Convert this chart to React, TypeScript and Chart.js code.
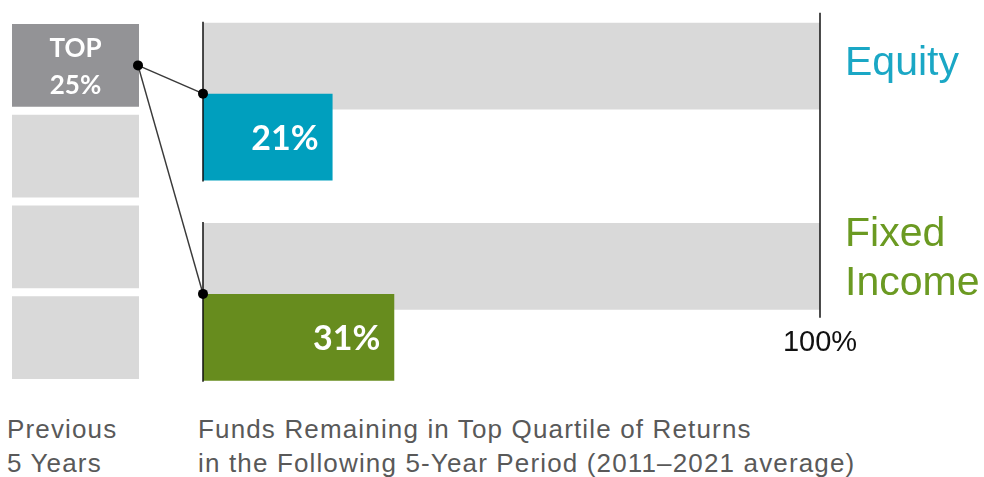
import React, { useEffect, useRef } from 'react';
import { Chart, registerables } from 'chart.js';

Chart.register(...registerables);

// ---- data ----
const categories = ['Equity', 'Fixed Income'];
const categoryLines = [['Equity'], ['Fixed', 'Income']];
const trackValues = [100, 100];
const remainingValues = [21, 31];
const valueLabels = ['21%', '31%'];
const scaleEndLabel = '100%';
const quartileCategories = ['Previous 5 Years'];
const quartileValues = [25, 25, 25, 25]; // bottom quartile → top quartile
const quartileLabels = [[], [], [], ['TOP', '25%']];
const footerLeft = ['Previous', '5 Years'];
const footerRight = [
  'Funds Remaining in Top Quartile of Returns',
  'in the Following 5-Year Period (2011\u20132021 average)',
];

// ---- styles ----
const barColors = ['#009fbe', '#678c1e'];
const categoryTextColors = ['#1aa7c5', '#6b9a22'];
const trackColor = '#d9d9d9';
const quartileColors = ['#d9d9d9', '#d9d9d9', '#d9d9d9', '#939396'];
const W = 984;
const H = 410;

export default function App() {
  const qRef = useRef<HTMLCanvasElement | null>(null);
  const mRef = useRef<HTMLCanvasElement | null>(null);

  useEffect(() => {
    const qLabelPlugin = {
      id: 'qlabels',
      afterDatasetsDraw(chart: any) {
        const ctx = chart.ctx;
        ctx.save();
        ctx.fillStyle = '#ffffff';
        ctx.font = 'bold 26px Lato, "Open Sans", sans-serif';
        ctx.textAlign = 'center';
        ctx.textBaseline = 'middle';
        quartileLabels.forEach((lines, i) => {
          const el: any = chart.getDatasetMeta(i).data[0];
          if (!el || !lines.length) return;
          const cy = (el.y + el.base) / 2 + 1.5;
          lines.forEach((t, k) => {
            ctx.fillText(t, el.x, cy + (k - (lines.length - 1) / 2) * 37);
          });
        });
        ctx.restore();
      },
    };

    const qChart = new Chart(qRef.current as HTMLCanvasElement, {
      type: 'bar',
      data: {
        labels: quartileCategories,
        datasets: quartileValues.map((v, i) => ({
          data: [v],
          backgroundColor: quartileColors[i],
          borderColor: '#ffffff',
          borderWidth: { top: 4, bottom: 4, left: 0, right: 0 },
          borderSkipped: false,
          barPercentage: 1,
          categoryPercentage: 1,
          inflateAmount: 0,
        })),
      },
      options: {
        responsive: false,
        animation: false,
        devicePixelRatio: 1,
        layout: { padding: { left: 12, right: W - 139, top: 20, bottom: H - 383 } },
        scales: {
          x: { display: false, stacked: true },
          y: { display: false, stacked: true, min: 0, max: 100 },
        },
        plugins: { legend: { display: false }, tooltip: { enabled: false } },
      },
      plugins: [qLabelPlugin],
    } as any);

    const mainPlugin = {
      id: 'mainDecor',
      beforeDatasetDraw(chart: any, args: any) {
        if (args.index === 1) return false;
        return true;
      },
      afterDatasetsDraw(chart: any) {
        const ctx = chart.ctx;
        const xs = chart.scales.x;
        const track: any[] = chart.getDatasetMeta(0).data;
        const barsMeta = chart.getDatasetMeta(1);
        barsMeta.controller.draw();
        const bars: any[] = barsMeta.data;
        const x0 = xs.getPixelForValue(0);
        const x100 = xs.getPixelForValue(100);

        ctx.save();
        // axis lines
        ctx.strokeStyle = '#111111';
        ctx.lineWidth = 1.5;
        track.forEach((t, i) => {
          const b = bars[i];
          ctx.beginPath();
          ctx.moveTo(x0, t.y - t.height / 2 - 1);
          ctx.lineTo(x0, b.y + b.height / 2 + 1);
          ctx.stroke();
        });
        const first = track[0];
        const last = track[track.length - 1];
        ctx.beginPath();
        ctx.moveTo(x100, first.y - first.height / 2 - 10);
        ctx.lineTo(x100, last.y + last.height / 2 + 8);
        ctx.stroke();

        // value labels
        ctx.fillStyle = '#ffffff';
        ctx.font = 'bold 34px Lato, "Open Sans", sans-serif';
        ctx.textAlign = 'right';
        ctx.textBaseline = 'middle';
        bars.forEach((b, i) => {
          ctx.fillText(valueLabels[i], b.x - 14, b.y + 1.5);
        });

        // category labels
        ctx.font = '41px "Liberation Sans", Arial, sans-serif';
        ctx.textAlign = 'left';
        ctx.textBaseline = 'alphabetic';
        track.forEach((t, i) => {
          const lines = categoryLines[i];
          ctx.fillStyle = categoryTextColors[i];
          lines.forEach((ln, k) => {
            const by = t.y + 9 - (lines.length - 1) * 29 + k * 49;
            ctx.fillText(ln, x100 + 25, by);
          });
        });

        // 100% label
        ctx.fillStyle = '#111111';
        ctx.font = '29px "Liberation Sans", Arial, sans-serif';
        ctx.textAlign = 'center';
        ctx.fillText(scaleEndLabel, x100, last.y + last.height / 2 + 41);

        // connectors
        const qMeta = qChart.getDatasetMeta(quartileValues.length - 1);
        const q: any = qMeta.data[0];
        if (q) {
          const qx = q.x + q.width / 2 - 1;
          const qy = (q.y + q.base) / 2;
          ctx.strokeStyle = '#3a3a3a';
          ctx.lineWidth = 1.5;
          bars.forEach((b) => {
            ctx.beginPath();
            ctx.moveTo(qx, qy);
            ctx.lineTo(b.base, b.y - b.height / 2);
            ctx.stroke();
          });
          ctx.fillStyle = '#000000';
          const pts = [[qx, qy], ...bars.map((b) => [b.base, b.y - b.height / 2])];
          pts.forEach(([px, py]) => {
            ctx.beginPath();
            ctx.arc(px, py, 5, 0, Math.PI * 2);
            ctx.fill();
          });
        }
        ctx.restore();
      },
    };

    const mChart = new Chart(mRef.current as HTMLCanvasElement, {
      type: 'bar',
      data: {
        labels: categories,
        datasets: [
          {
            data: trackValues,
            backgroundColor: trackColor,
            categoryPercentage: 0.708,
            barPercentage: 1.225,
            inflateAmount: 0,
          },
          {
            data: remainingValues,
            backgroundColor: barColors,
            categoryPercentage: 0.708,
            barPercentage: 1.225,
            inflateAmount: 0,
          },
        ],
      },
      options: {
        indexAxis: 'y',
        responsive: false,
        animation: false,
        devicePixelRatio: 1,
        layout: { padding: { left: 203, right: W - 820, top: 1.5, bottom: H - 402 } },
        scales: {
          x: { display: false, min: 0, max: 100 },
          y: { display: false },
        },
        plugins: { legend: { display: false }, tooltip: { enabled: false } },
      },
      plugins: [mainPlugin],
    } as any);

    return () => {
      mChart.destroy();
      qChart.destroy();
    };
  }, []);

  const footStyle: React.CSSProperties = {
    position: 'absolute',
    top: 412,
    fontFamily: '"Liberation Sans", Arial, sans-serif',
    fontSize: 26,
    lineHeight: '34.4px',
    letterSpacing: '1.15px',
    color: '#595959',
    whiteSpace: 'nowrap',
  };

  return (
    <div style={{ position: 'absolute', left: 0, top: 0, width: W, height: 477, background: '#ffffff', overflow: 'hidden' }}>
      <canvas ref={qRef} width={W} height={H} style={{ position: 'absolute', left: 0, top: 0 }} />
      <canvas ref={mRef} width={W} height={H} style={{ position: 'absolute', left: 0, top: 0 }} />
      <div style={{ ...footStyle, left: 7 }}>
        {footerLeft.map((t, i) => (
          <div key={i}>{t}</div>
        ))}
      </div>
      <div style={{ ...footStyle, left: 198 }}>
        {footerRight.map((t, i) => (
          <div key={i}>{t}</div>
        ))}
      </div>
    </div>
  );
}
